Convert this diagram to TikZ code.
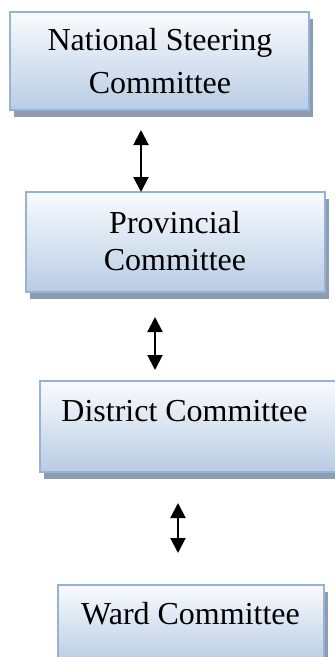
\documentclass[tikz,border=0pt]{standalone}
\usepackage{fontspec}
\setmainfont{Liberation Serif}
\usetikzlibrary{arrows.meta,shadows}
\definecolor{boxtop}{RGB}{250,251,254}
\definecolor{boxbot}{RGB}{184,204,228}
\definecolor{boxline}{RGB}{149,179,215}
\definecolor{shadowc}{RGB}{143,156,174}
\tikzset{
  box/.style={draw=boxline, line width=1.4pt, top color=boxtop, bottom color=boxbot,
    inner sep=0pt, outer sep=0pt,
    drop shadow={shadow xshift=3.5pt, shadow yshift=-6.5pt, fill=shadowc, opacity=1}},
  txt/.style={anchor=base, inner sep=0pt, font=\fontsize{32}{38}\selectfont},
  link/.style={line width=2pt, {Triangle[width=15pt,length=15pt]}-{Triangle[width=15pt,length=15pt]}}
}
\begin{document}
\begin{tikzpicture}[x=1pt,y=1pt]
\useasboundingbox (0,0) rectangle (335,-657);
% boxes
\node[box, minimum width=299pt, minimum height=98pt] (b1) at (159.5,-61) {};
\node[box, minimum width=299pt, minimum height=100pt] (b2) at (175.5,-242) {};
\node[box, minimum width=300pt, minimum height=91pt] (b3) at (190,-426.5) {};
\node[box, minimum width=266pt, minimum height=78pt] (b4) at (191,-624) {};
% texts
\node[txt] (t1a) at (160,-50.5) {National Steering};
\node[txt] (t1b) at (160,-93) {Committee};
\node[txt] (t2a) at (175,-233) {Provincial};
\node[txt] (t2b) at (175,-270.5) {Committee};
\node[txt] (t3) at (184.5,-421) {District Committee};
\node[txt] (t4) at (190.5,-624) {Ward Committee};
% arrow end points
\coordinate (a1t) at (141,-130);
\coordinate (a2t) at (155,-317);
\coordinate (a2b) at (155,-370);
\coordinate (a3t) at (178,-503);
\coordinate (a3b) at (178,-553);
\draw[link] (a1t) -- (a1t |- b2.north);
\draw[link] (a2t) -- (a2b);
\draw[link] (a3t) -- (a3b);
\end{tikzpicture}
\end{document}
